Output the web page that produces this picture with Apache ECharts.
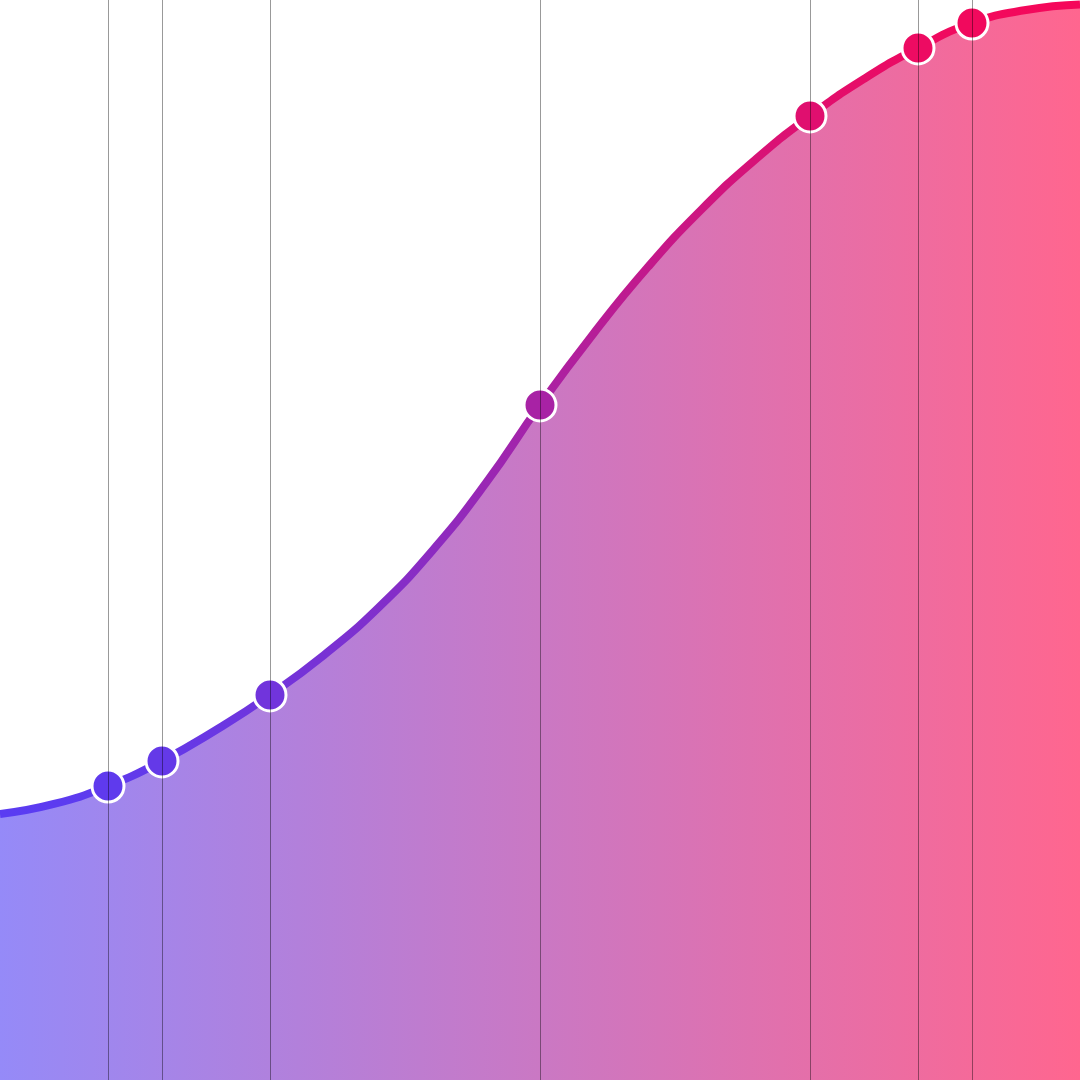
<!DOCTYPE html>
<html>
<head>
<meta charset="utf-8">
<style>
  html, body { margin: 0; padding: 0; background: #fff; }
  #main { width: 1080px; height: 1080px; }
</style>
<script src="https://cdn.jsdelivr.net/npm/echarts@6/dist/echarts.min.js"></script>
</head>
<body>
<div id="main"></div>
<script>
// curve (x as fraction of width, y as fraction of height)
var xs = [0, 0.05, 0.1, 0.15, 0.2, 0.25, 0.3, 0.35, 0.4, 0.45, 0.5,
          0.55, 0.6, 0.65, 0.7, 0.75, 0.8, 0.85, 0.9, 0.95, 1];
var ys = [0.2463, 0.2556, 0.2722, 0.2954, 0.3241, 0.3565, 0.3935, 0.4370, 0.4898, 0.5528, 0.6250,
          0.6917, 0.7528, 0.8065, 0.8528, 0.8926, 0.9269, 0.9556, 0.9787, 0.9907, 0.9958];
// points that carry a marker and a vertical guide
var markedXs = [0.1, 0.15, 0.25, 0.5, 0.75, 0.85, 0.9];

var chart = echarts.init(document.getElementById('main'));

var seriesData = xs.map(function (x, i) {
  var item = { value: [x, ys[i]] };
  if (markedXs.indexOf(x) < 0) {
    item.symbol = 'none';
  }
  return item;
});

chart.setOption({
  animation: false,
  grid: { left: 0, right: 0, top: 0, bottom: 0 },
  xAxis: {
    type: 'value',
    min: 0,
    max: 1,
    position: 'top',
    axisLine: { show: true, lineStyle: { color: '#999', width: 1 } },
    axisTick: { show: false },
    axisLabel: { show: false },
    splitLine: { show: false }
  },
  yAxis: {
    type: 'value',
    min: 0,
    max: 1,
    axisLine: { show: false },
    axisTick: { show: false },
    axisLabel: { show: false },
    splitLine: { show: false }
  },
  visualMap: {
    type: 'continuous',
    show: false,
    dimension: 1,
    min: Math.min.apply(null, ys),
    max: Math.max.apply(null, ys),
    inRange: { color: ['#5a3cf2', '#f5085a'] }
  },
  series: [{
    type: 'line',
    smooth: true,
    data: seriesData,
    symbol: 'circle',
    symbolSize: 32,
    itemStyle: { borderColor: '#fff', borderWidth: 3 },
    lineStyle: { width: 8 },
    areaStyle: {
      opacity: 1,
      color: new echarts.graphic.LinearGradient(0, 0, 1, 0, [
        { offset: 0, color: '#958af8' },
        { offset: 1, color: '#ff668f' }
      ])
    },
    markLine: {
      silent: true,
      symbol: ['none', 'none'],
      label: { show: false },
      lineStyle: { color: 'rgba(0,0,0,0.4)', width: 1, type: 'solid' },
      data: markedXs.map(function (x) { return { xAxis: x }; })
    }
  }]
});
</script>
</body>
</html>
